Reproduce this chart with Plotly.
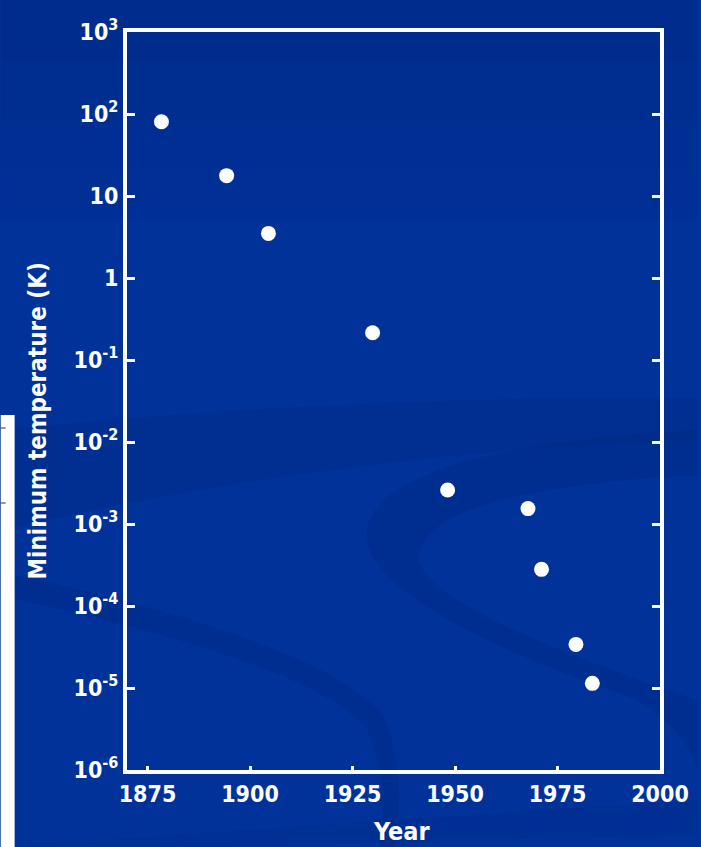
import plotly.graph_objects as go

# ---- data ----
years = [1878.4, 1894.3, 1904.5, 1929.9, 1948.2, 1967.8, 1971.1, 1979.5, 1983.5]
min_temps = [80.5, 17.7, 3.5, 0.215, 2.6e-3, 1.54e-3, 2.8e-4, 3.4e-5, 1.14e-5]

x_ticks = [1875, 1900, 1925, 1950, 1975, 2000]
x_tick_labels = ["1875", "1900", "1925", "1950", "1975", "2000"]
y_ticks = [1e3, 1e2, 1e1, 1, 1e-1, 1e-2, 1e-3, 1e-4, 1e-5, 1e-6]
y_tick_labels = ["10<sup>3</sup>", "10<sup>2</sup>", "10", "1", "10<sup>-1</sup>",
                 "10<sup>-2</sup>", "10<sup>-3</sup>", "10<sup>-4</sup>",
                 "10<sup>-5</sup>", "10<sup>-6</sup>"]

x_title = "Year"
y_title = "Minimum temperature (K)"

FONT = "DejaVu Sans Condensed, Liberation Sans Narrow, DejaVu Sans, sans-serif"
BG = "#00329a"
DARK = "#00287f"

fig = go.Figure()
fig.add_trace(go.Scatter(
    x=years, y=min_temps, mode="markers",
    marker=dict(color="white", size=15, line=dict(width=0)),
    showlegend=False, cliponaxis=False,
))

axis_common = dict(
    showgrid=False, zeroline=False,
    showline=True, linecolor="white", linewidth=4,
    ticks="inside", tickcolor="white", tickwidth=3,
    tickfont=dict(family=FONT, size=23, color="white", weight="bold"),
)

fig.update_xaxes(
    range=[1870, 2000], tickvals=x_ticks, ticktext=x_tick_labels,
    mirror=True, ticklen=4, **axis_common,
)
fig.update_yaxes(
    type="log", range=[-6, 3], tickvals=y_ticks, ticktext=y_tick_labels,
    mirror="ticks", ticklen=8, **axis_common,
)

# pixel -> paper coordinates (plot area spans x 127..663, y 32..770)
def px_x(p):
    return (p - 127) / 536

def px_y(p):
    return (770 - p) / 738

def path(cmds):
    out = []
    for c in cmds:
        if isinstance(c, str):
            out.append(c)
        else:
            out.append("%.4f,%.4f" % (px_x(c[0]), px_y(c[1])))
    return " ".join(out)

shapes = []
# darker dithered band at the top of the slide, fading out
for i, (top, bot) in enumerate([(0, 60), (60, 120), (120, 170), (170, 220)]):
    shapes.append(dict(type="rect", xref="paper", yref="paper",
                       x0=px_x(0), x1=px_x(701), y0=px_y(bot), y1=px_y(top),
                       fillcolor=DARK, opacity=0.45 - 0.1 * i,
                       line=dict(width=0), layer="below"))
# faint swirl bands of the slide background
swirls = [
    (["M", (0, 430), "Q", (350, 395), (701, 398), "L", (701, 440),
      "Q", (350, 450), (0, 530), "Z"], 0.3),
    (["M", (701, 430), "Q", (360, 450), (368, 540), "Q", (380, 610), (640, 700),
      "Q", (690, 730), (701, 770), "L", (701, 700), "Q", (430, 610), (420, 560),
      "Q", (420, 490), (701, 475), "Z"], 0.35),
    (["M", (0, 572), "Q", (320, 640), (385, 715), "Q", (410, 780), (395, 847),
      "L", (380, 847), "Q", (392, 785), (368, 728), "Q", (310, 662), (0, 596), "Z"], 0.35),
    (["M", (0, 847), "L", (701, 800), "L", (701, 835), "L", (150, 847), "Z"], 0.25),
]
for cmds, op in swirls:
    shapes.append(dict(type="path", xref="paper", yref="paper", path=path(cmds),
                       fillcolor=DARK, opacity=op, line=dict(width=0), layer="below"))
# white box at the far left edge of the slide
shapes += [
    dict(type="rect", xref="paper", yref="paper",
         x0=px_x(0), x1=px_x(14), y0=px_y(847), y1=px_y(415),
         fillcolor="white", line=dict(width=0), layer="above"),
    dict(type="line", xref="paper", yref="paper",
         x0=px_x(0), x1=px_x(5), y0=px_y(428), y1=px_y(428),
         line=dict(color="#333333", width=1)),
    dict(type="line", xref="paper", yref="paper",
         x0=px_x(0), x1=px_x(5), y0=px_y(503), y1=px_y(503),
         line=dict(color="#333333", width=1)),
]

annotations = [
    dict(text=y_title, xref="paper", yref="paper",
         x=px_x(38), y=px_y(421), showarrow=False, textangle=-90,
         xanchor="center", yanchor="middle",
         font=dict(family=FONT, size=24, color="white", weight="bold")),
    dict(text=x_title, xref="paper", yref="paper",
         x=px_x(403), y=px_y(831), showarrow=False,
         xanchor="center", yanchor="middle",
         font=dict(family=FONT, size=25, color="white", weight="bold")),
]

fig.update_layout(
    width=701, height=847,
    margin=dict(l=127, r=38, t=32, b=77),
    paper_bgcolor=BG, plot_bgcolor="rgba(0,0,0,0)",
    shapes=shapes, annotations=annotations,
)

fig.write_html("out.html", config={"displayModeBar": False},
               post_script="document.body.style.margin='0';document.body.style.background='" + BG + "';")
